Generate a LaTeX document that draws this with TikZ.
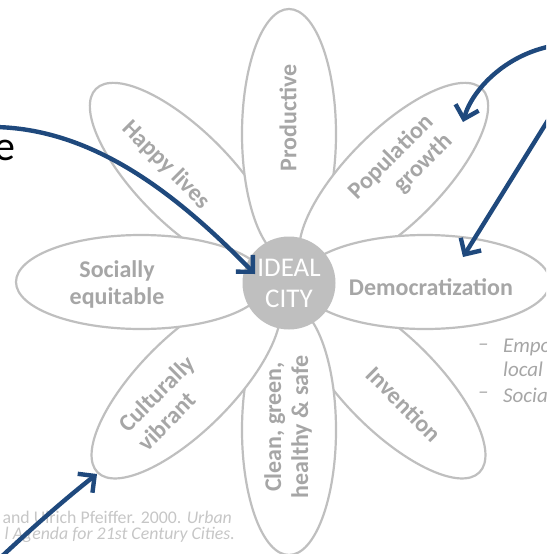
\documentclass[tikz,border=0pt]{standalone}
\usepackage{fontspec}
\setmainfont{Carlito}
\usetikzlibrary{shapes.geometric,arrows.meta}
\definecolor{petalline}{HTML}{BFBFBF}
\definecolor{petaltext}{HTML}{A6A6A6}
\definecolor{cityfill}{HTML}{BFBFBF}
\definecolor{arrowblue}{HTML}{1F497D}
\definecolor{notetext}{HTML}{A6A6A6}
\definecolor{reftext}{HTML}{C6C6C6}
\begin{document}
\begin{tikzpicture}[x=1pt,y=-1pt,
  petal/.style={ellipse, draw=petalline, line width=2.2pt, fill=white,
    minimum width=250pt, minimum height=94pt, inner sep=0pt},
  ptext/.style={text=petaltext, font=\fontsize{24}{27}\selectfont\bfseries, inner sep=0pt},
  citytext/.style={text=white, font=\fontsize{27}{31}\selectfont, align=center},
  bluearrow/.style={draw=arrowblue, line width=4.4pt,
    -{Straight Barb[length=12pt,width=24pt]}},
  notestyle/.style={text=notetext, font=\fontsize{21}{22}\selectfont\itshape, inner sep=0pt, anchor=west},
  refstyle/.style={text=reftext, font=\fontsize{17.8}{18}\selectfont, inner sep=0pt, anchor=east}
]
\useasboundingbox (0,0) rectangle (546,554);
\clip (0,0) rectangle (546,554);

% petals, bottom to top
\node[petal, rotate=-45] (happy) at (184.3,177.3) {};
\node[petal, rotate=90]  (prod)  at (289,134) {};
\node[petal, rotate=45]  (pop)   at (393.7,177.3) {};
\node[petal, rotate=-45] (inv)   at (391,384) {};
\node[petal]             (demo)  at (425,282) {};
\node[petal, rotate=90]  (clean) at (289,430) {};
\node[petal, rotate=45]  (cult)  at (186,384) {};
\node[petal]             (soc)   at (141,282) {};

% centre
\node[circle, fill=cityfill, minimum size=93pt, inner sep=0pt] (city) at (289,283) {};
\node[citytext] (citylabel) at (city.center) {IDEAL\\CITY};

% petal labels
\node[ptext, rotate=90] (prodtext) at (288,118) {Productive};
\node[ptext, rotate=-45] (happytext) at (166,165) {Happy lives};
\node[ptext, rotate=45, align=right] (poptext) at (401,167) {Population\\growth};
\node[ptext, align=center] (soctext) at (117,284) {Socially\\equitable};
\node[ptext] (demotext) at (431,287) {Democratization};
\node[ptext, rotate=45, align=left] (culttext) at (166,403) {Culturally\\vibrant};
\node[ptext, rotate=90, align=center] (cleantext) at (288,427) {Clean, green,\\healthy \& safe};
\node[ptext, rotate=-45] (invtext) at (404,404) {Invention};

% side notes
\node[notestyle] (dash1) at (478,347) {–};
\node[notestyle] (note1) at (503,347) {Empo};
\node[notestyle] (note2) at (503,369) {local};
\node[notestyle] (dash2) at (478,395) {–};
\node[notestyle] (note3) at (503,395) {Socia};

% reference
\node[refstyle] (ref1) at (232,517) {and Ulrich Pfeiffer. 2000. \textit{Urban}};
\node[refstyle] (ref2) at (235,535) {\textit{l Agenda for 21st Century Cities.}};

% partial title letter
\node[anchor=base west, inner sep=0pt, font=\fontsize{42}{46}\selectfont] (titlee) at (-6,160) {e};

% arrow end points
\coordinate (s1) at (-5,127);
\coordinate (t1) at (255,274);
\coordinate (s2) at (552,46);
\coordinate (t2) at (463,122);
\coordinate (s3) at (550,117);
\coordinate (t3) at (463,257);
\coordinate (s4) at (-2,560);
\coordinate (t4) at (97,474);

\draw[bluearrow] (s1) .. controls (100,129) and (185,203) .. (t1);
\draw[bluearrow] (s2) .. controls (505,55) and (472,90) .. (t2);
\draw[bluearrow] (s3) -- (t3);
\draw[bluearrow] (s4) .. controls (35,525) and (70,495) .. (t4);
\end{tikzpicture}
\end{document}
